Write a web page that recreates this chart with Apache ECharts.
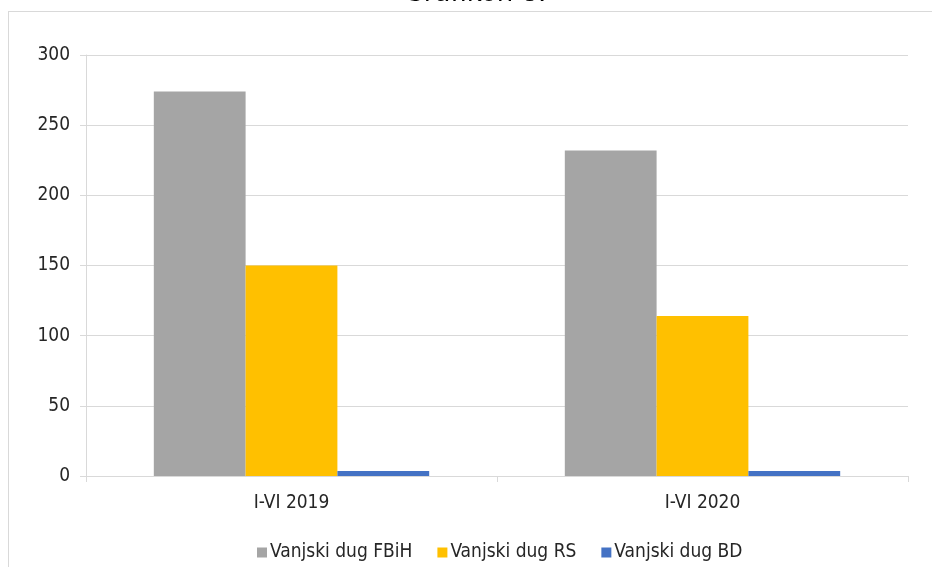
<!DOCTYPE html>
<html><head><meta charset="utf-8">
<script src="https://cdn.jsdelivr.net/npm/echarts@6/dist/echarts.min.js"></script>
<style>html,body{margin:0;padding:0;background:#fff}#c{width:933px;height:567px}</style>
</head><body><div id="c"></div>
<script>
const titleText = 'Grafikon 8.';
const categories = ['I-VI 2019', 'I-VI 2020'];
const seriesNames = ['Vanjski dug FBiH', 'Vanjski dug RS', 'Vanjski dug BD'];
const fbihValues = [274, 232];
const rsValues = [150, 114];
const bdValues = [3.5, 3.5];
const yTicks = [0, 50, 100, 150, 200, 250, 300];
const colors = ['#a5a5a5', '#ffc000', '#4472c4'];

const font = 'DejaVu Sans Condensed';
const chart = echarts.init(document.getElementById('c'), null, {renderer: 'canvas'});
const values = [fbihValues, rsValues, bdValues];
chart.setOption({
  animation: false,
  graphic: [
    {type: 'text', x: 475, y: 7, style: {text: titleText, font: '26px DejaVu Sans', fill: '#000', align: 'center', verticalAlign: 'bottom'}},
    {type: 'line', shape: {x1: 8, y1: 11.5, x2: 932, y2: 11.5}, style: {stroke: '#d9d9d9', lineWidth: 1}},
    {type: 'line', shape: {x1: 8.5, y1: 11, x2: 8.5, y2: 567}, style: {stroke: '#d9d9d9', lineWidth: 1}}
  ],
  grid: {left: 86, right: 25, top: 55, bottom: 91, containLabel: false},
  legend: {
    top: 538, left: 252, itemWidth: 10, itemHeight: 10, itemGap: 25, icon: 'rect',
    textStyle: {fontFamily: font, fontSize: 19, color: '#262626', padding: [0, 0, 0, -2]},
    data: seriesNames
  },
  xAxis: {
    type: 'category', data: categories,
    axisLine: {lineStyle: {color: '#d9d9d9'}},
    axisTick: {show: true, length: 6, lineStyle: {color: '#d9d9d9'}},
    axisLabel: {fontFamily: font, fontSize: 19, color: '#262626', margin: 18}
  },
  yAxis: {
    type: 'value', min: yTicks[0], max: yTicks[yTicks.length - 1], interval: yTicks[1] - yTicks[0],
    axisLine: {show: true, lineStyle: {color: '#d9d9d9'}},
    axisTick: {show: true, length: 6, lineStyle: {color: '#d9d9d9'}},
    splitLine: {lineStyle: {color: '#d9d9d9'}},
    axisLabel: {fontFamily: font, fontSize: 19, color: '#262626', margin: 16}
  },
  series: seriesNames.map((n, i) => ({
    name: n, type: 'bar', data: values[i], barGap: '0%', barCategoryGap: '33%',
    itemStyle: {color: colors[i]}
  }))
});
</script></body></html>
